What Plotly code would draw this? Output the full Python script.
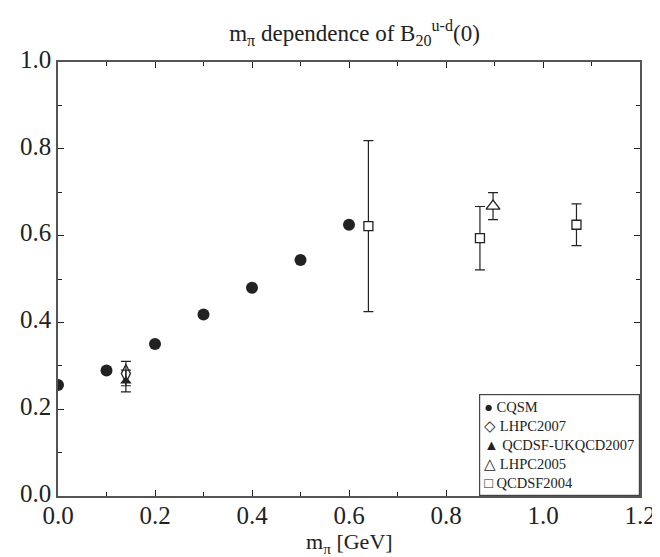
import plotly.graph_objects as go

# CQSM
cqsm_x = [0.0, 0.1, 0.2, 0.3, 0.4, 0.5, 0.6]
cqsm_y = [0.256, 0.289, 0.350, 0.418, 0.480, 0.544, 0.625]

# LHPC2007
lhpc07_x = [0.14]
lhpc07_y = [0.282]
lhpc07_err = [0.028]

# QCDSF-UKQCD2007
qcdsf07_x = [0.14]
qcdsf07_y = [0.265]
qcdsf07_err = [0.025]

# LHPC2005
lhpc05_x = [0.897]
lhpc05_y = [0.668]
lhpc05_err = [0.031]

# QCDSF2004
qcdsf04_x = [0.64, 0.870, 1.069]
qcdsf04_y = [0.622, 0.594, 0.625]
qcdsf04_err = [0.197, 0.073, 0.048]

legend_symbols = ["●", "◇", "▲", "△", "□"]
legend_names = ["CQSM", "LHPC2007", "QCDSF-UKQCD2007", "LHPC2005", "QCDSF2004"]

FONT = "Liberation Serif, Times New Roman, serif"
INK = "#222222"

fig = go.Figure()

def errbar(arr):
    return dict(type="data", array=arr, visible=True, color=INK, thickness=1.2, width=5)

fig.add_trace(go.Scatter(x=cqsm_x, y=cqsm_y, mode="markers", name=legend_names[0],
                         marker=dict(symbol="circle", size=12, color=INK, line=dict(width=0))))
fig.add_trace(go.Scatter(x=lhpc07_x, y=lhpc07_y, mode="markers", name=legend_names[1],
                         error_y=errbar(lhpc07_err),
                         marker=dict(symbol="diamond-tall-open", size=13, color=INK, line=dict(width=1.3))))
fig.add_trace(go.Scatter(x=qcdsf07_x, y=qcdsf07_y, mode="markers", name=legend_names[2],
                         error_y=errbar(qcdsf07_err),
                         marker=dict(symbol="triangle-up", size=10, color=INK, line=dict(width=0))))
fig.add_trace(go.Scatter(x=lhpc05_x, y=lhpc05_y, mode="markers", name=legend_names[3],
                         error_y=errbar(lhpc05_err),
                         marker=dict(symbol="triangle-up", size=12, color="white", line=dict(width=1.3, color=INK))))
fig.add_trace(go.Scatter(x=qcdsf04_x, y=qcdsf04_y, mode="markers", name=legend_names[4],
                         error_y=errbar(qcdsf04_err),
                         marker=dict(symbol="square", size=9, color="white", line=dict(width=1.3, color=INK))))

axis_common = dict(
    showgrid=False, zeroline=False, showline=True, linecolor="#555555", linewidth=1.5,
    mirror="ticks", ticks="inside", ticklen=6, tickwidth=1.2, tickcolor=INK,
    tickfont=dict(family=FONT, size=25, color=INK),
    minor=dict(ticks="inside", ticklen=4, tickwidth=1.2, tickcolor=INK, dtick=0.1),
)

fig.update_xaxes(range=[0, 1.2], dtick=0.2, tickformat=".1f", ticklabeloverflow="allow",
                 ticklabelstandoff=-4, **axis_common)
fig.update_yaxes(range=[0, 1.0], dtick=0.2, tickformat=".1f", ticklabelshift=-3, **axis_common)

# x-axis title placed just under the tick labels
fig.add_annotation(x=0.5, y=-0.109, xref="paper", yref="paper", xanchor="center", yanchor="middle",
                   text="m<sub>π</sub> [GeV]", showarrow=False,
                   font=dict(family=FONT, size=22, color=INK))

legend_text = "<br>".join(f"{s} {n}" for s, n in zip(legend_symbols, legend_names))
fig.add_annotation(x=1, y=0, xref="paper", yref="paper", xanchor="right", yanchor="bottom",
                   text=legend_text, align="left", showarrow=False,
                   font=dict(family=FONT, size=14.5, color=INK),
                   bgcolor="white", bordercolor="#444444", borderwidth=1.2, borderpad=4)

fig.update_layout(
    width=660, height=557,
    margin=dict(l=49, r=14, t=54, b=69),
    paper_bgcolor="white", plot_bgcolor="white",
    title=dict(text="m<sub>π</sub> dependence of B<sub>20</sub><sup>u-d</sup>(0)",
               font=dict(family=FONT, size=23, color=INK), x=0.525, xanchor="center", y=0.955, yanchor="middle"),
    showlegend=False,
    font=dict(family=FONT, color=INK),
)

fig.write_html("out.html")
